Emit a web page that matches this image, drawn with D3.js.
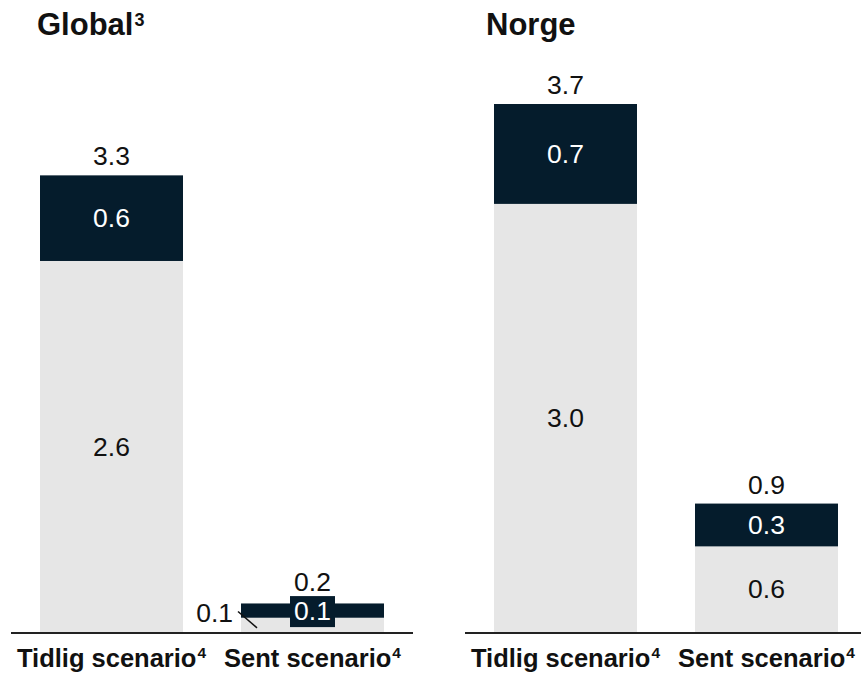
<!DOCTYPE html>
<html>
<head>
<meta charset="utf-8">
<script src="https://cdn.jsdelivr.net/npm/d3@7"></script>
<style>
  html, body { margin: 0; padding: 0; background: #fff; }
  svg { display: block; font-family: "Liberation Sans", Arial, sans-serif; }
</style>
</head>
<body>
<svg id="chart" width="861" height="673"></svg>
<script>
// Panel titles and footnote markers
const panelTitles = ["Global", "Norge"];
const panelNotes = ["3", ""];

// Scenarios on the x axis (both panels)
const categories = ["Tidlig scenario", "Sent scenario"];
const categoryNote = "4";

// Global: base segment, added segment, stated total
const globalBase = [2.6, 0.1];
const globalAdded = [0.6, 0.1];
const globalTotal = [3.3, 0.2];

// Norge: base segment, added segment, stated total
const norgeBase = [3.0, 0.6];
const norgeAdded = [0.7, 0.3];
const norgeTotal = [3.7, 0.9];

const panelData = [
  { title: panelTitles[0], note: panelNotes[0], base: globalBase, added: globalAdded, total: globalTotal },
  { title: panelTitles[1], note: panelNotes[1], base: norgeBase, added: norgeAdded, total: norgeTotal }
];

const DARK = "#051c2c";
const LIGHT = "#e6e6e6";
const INK = "#111";

const svg = d3.select("#chart");
const baseY = 632;

const y = d3.scaleLinear().domain([0, 3.7]).range([baseY, baseY - 3.7 * 142.7]);

const panelLeft = [11, 465];
const panelWidth = 402;
const titleX = [37, 486];

panelData.forEach((p, pi) => {
  const g = svg.append("g");
  const x = d3.scaleBand()
    .domain(categories)
    .range([panelLeft[pi], panelLeft[pi] + panelWidth])
    .paddingInner(0.2886)
    .paddingOuter(0.1443);

  // Title with superscript footnote
  const t = g.append("text")
    .attr("x", titleX[pi]).attr("y", 35)
    .attr("font-size", 31).attr("font-weight", "bold").attr("fill", INK)
    .text(p.title);
  if (p.note) {
    t.append("tspan").attr("font-size", 18).attr("dx", 1).attr("dy", -9).text(p.note);
  }

  const rows = categories.map((c, i) => ({
    cat: c, base: p.base[i], added: p.added[i], total: p.total[i]
  }));

  // Base (light) segments
  g.selectAll("rect.base").data(rows).join("rect")
    .attr("class", "base")
    .attr("x", d => x(d.cat)).attr("width", x.bandwidth())
    .attr("y", d => y(d.base)).attr("height", d => y(0) - y(d.base))
    .attr("fill", LIGHT);

  // Added (dark) segments
  g.selectAll("rect.added").data(rows).join("rect")
    .attr("class", "added")
    .attr("x", d => x(d.cat)).attr("width", x.bandwidth())
    .attr("y", d => y(d.base + d.added)).attr("height", d => y(d.base) - y(d.base + d.added))
    .attr("fill", DARK);

  const fmt = d3.format(".1f");
  const fs = 26.5;

  rows.forEach(d => {
    const cx = x(d.cat) + x.bandwidth() / 2;
    const baseH = y(0) - y(d.base);
    const addH = y(d.base) - y(d.base + d.added);

    // Base segment label
    if (baseH > 30) {
      g.append("text").attr("x", cx).attr("y", (y(0) + y(d.base)) / 2)
        .attr("dy", "0.35em").attr("text-anchor", "middle")
        .attr("font-size", fs).attr("fill", INK).text(fmt(d.base));
    } else {
      const lx = x(d.cat) - 8;
      const ly = y(d.base + d.added) + 19;
      g.append("text").attr("x", lx).attr("y", ly)
        .attr("text-anchor", "end")
        .attr("font-size", fs).attr("fill", INK).text(fmt(d.base));
      g.append("line")
        .attr("x1", x(d.cat) - 3).attr("y1", ly - 11)
        .attr("x2", x(d.cat) + 16).attr("y2", (y(0) + y(d.base)) / 2 + 3)
        .attr("stroke", INK).attr("stroke-width", 1.5);
    }

    // Added segment label (white), boxed when the segment is thin
    const my = (y(d.base) + y(d.base + d.added)) / 2;
    if (addH < 30) {
      g.append("rect").attr("x", cx - 22.5).attr("y", my - 14.5)
        .attr("width", 45).attr("height", 31).attr("fill", DARK);
    }
    g.append("text").attr("x", cx).attr("y", my)
      .attr("dy", "0.35em").attr("text-anchor", "middle")
      .attr("font-size", fs).attr("fill", "#fff").text(fmt(d.added));

    // Total above the stack
    g.append("text").attr("x", cx).attr("y", y(d.base + d.added) - (addH < 30 ? 12 : 10))
      .attr("text-anchor", "middle")
      .attr("font-size", fs).attr("fill", INK).text(fmt(d.total));

    // Category label with superscript footnote
    const ct = g.append("text").attr("x", cx).attr("y", 667)
      .attr("text-anchor", "middle")
      .attr("font-size", 25.5).attr("font-weight", "bold").attr("fill", INK);
    ct.append("tspan").text(d.cat);
    ct.append("tspan").attr("font-size", 15.5).attr("dx", 1).attr("dy", -9).text(categoryNote);
  });

  // Baseline
  g.append("line")
    .attr("x1", panelLeft[pi]).attr("x2", panelLeft[pi] + panelWidth)
    .attr("y1", baseY + 1).attr("y2", baseY + 1)
    .attr("stroke", "#222").attr("stroke-width", 2);
});
</script>
</body>
</html>
